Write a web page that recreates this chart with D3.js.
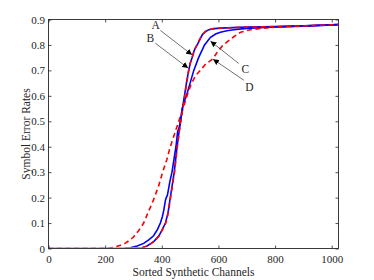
<!DOCTYPE html>
<html><head><meta charset="utf-8">
<script src="https://cdn.jsdelivr.net/npm/d3@7"></script>
<style>body{margin:0;background:#fff}svg{display:block}text{font-family:"Liberation Serif","Times New Roman",serif;fill:#262626}</style>
</head><body><svg id="c" width="374" height="280"></svg>
<script>
const xTicks = [0, 200, 400, 600, 800, 1000];
const yTicks = [0, 0.1, 0.2, 0.3, 0.4, 0.5, 0.6, 0.7, 0.8, 0.9];
const xLabel = "Sorted Synthetic Channels";
const yLabel = "Symbol Error Rates";

const aX = [0, 300, 330, 348, 362, 374, 390, 402, 413, 422, 430, 437, 444, 449, 454, 460, 466, 473, 480, 487, 495, 501, 507, 515, 525, 534, 543, 554, 566, 585, 607, 650, 700, 800, 900, 1024];
const aY = [0, 0, 0.003, 0.01, 0.02, 0.03, 0.05, 0.075, 0.1, 0.14, 0.2, 0.25, 0.3, 0.35, 0.4, 0.45, 0.5, 0.55, 0.6, 0.65, 0.7, 0.73, 0.75, 0.78, 0.8, 0.82, 0.84, 0.852, 0.86, 0.864, 0.866, 0.868, 0.87, 0.872, 0.875, 0.88];
const bX = [0, 305, 332, 349, 363, 375, 391, 403, 414, 423, 431, 438, 445, 450, 455, 461, 467, 474, 481, 488, 495, 501, 507, 515, 524, 533, 542, 553, 565, 585, 607, 650, 700, 800, 900, 1024];
const bY = [0, 0, 0.003, 0.01, 0.02, 0.03, 0.05, 0.075, 0.1, 0.14, 0.2, 0.25, 0.3, 0.35, 0.4, 0.45, 0.5, 0.55, 0.6, 0.65, 0.7, 0.73, 0.75, 0.78, 0.8, 0.82, 0.84, 0.852, 0.86, 0.864, 0.866, 0.868, 0.87, 0.872, 0.875, 0.88];
const cX = [0, 260, 289, 313, 336, 355, 371, 385, 395, 402, 407, 413, 416, 420, 428, 436, 443, 450, 456, 460, 466, 472, 480, 487, 500, 513, 530, 551, 572, 590, 607, 630, 654, 700, 780, 900, 1024];
const cY = [0, 0, 0.003, 0.01, 0.02, 0.035, 0.05, 0.075, 0.1, 0.125, 0.15, 0.19, 0.2, 0.21, 0.26, 0.3, 0.35, 0.4, 0.46, 0.47, 0.5, 0.55, 0.58, 0.6, 0.65, 0.7, 0.75, 0.8, 0.83, 0.843, 0.85, 0.856, 0.86, 0.865, 0.87, 0.874, 0.88];
const dX = [0, 200, 218, 235, 254, 270, 283, 300, 318, 336, 355, 374, 390, 403, 418, 430, 445, 460, 475, 489, 505, 520, 536, 555, 580, 598, 617, 645, 678, 713, 760, 800, 900, 1024];
const dY = [0, 0, 0.002, 0.006, 0.013, 0.02, 0.03, 0.045, 0.07, 0.1, 0.15, 0.2, 0.25, 0.3, 0.35, 0.4, 0.45, 0.5, 0.55, 0.6, 0.65, 0.68, 0.7, 0.725, 0.745, 0.775, 0.8, 0.825, 0.85, 0.86, 0.866, 0.87, 0.875, 0.88];

// annotations: label, label anchor in data, arrow start, arrow tip
const annLabels = ["A", "B", "C", "D"];
const annLabelPos = [[378, 0.880], [360, 0.827], [695, 0.705], [709, 0.633]];
const annFrom = [[395, 0.857], [377, 0.807], [672, 0.727], [690, 0.661]];
const annTo = [[507, 0.761], [493, 0.709], [572, 0.815], [581, 0.744]];

const svg = d3.select("#c");
const L = 48.5, R = 338.5, T = 19.5, B = 248.5;
const x = d3.scaleLinear().domain([0, 1024]).range([L, R]);
const y = d3.scaleLinear().domain([0, 0.9]).range([B, T]);

svg.append("defs").append("marker").attr("id", "ah").attr("viewBox", "0 0 10 10")
  .attr("refX", 10).attr("refY", 5).attr("markerWidth", 6).attr("markerHeight", 6)
  .attr("markerUnits", "userSpaceOnUse").attr("orient", "auto")
  .append("path").attr("d", "M0,0L10,5L0,10Z").attr("fill", "#000");

const ax = "#262626";
const gx = svg.append("g").attr("transform", `translate(0,${B})`)
  .call(d3.axisBottom(x).tickValues(xTicks).tickSize(-3).tickPadding(6.5).tickFormat(d3.format("d")));
const gx2 = svg.append("g").attr("transform", `translate(0,${T})`)
  .call(d3.axisTop(x).tickValues(xTicks).tickSize(-3).tickFormat(""));
const gy = svg.append("g").attr("transform", `translate(${L},0)`)
  .call(d3.axisLeft(y).tickValues(yTicks).tickSize(-3).tickPadding(3.5).tickFormat(d => d === 0 ? "0" : d3.format(".1f")(d)));
const gy2 = svg.append("g").attr("transform", `translate(${R},0)`)
  .call(d3.axisRight(y).tickValues(yTicks).tickSize(-3).tickFormat(""));
[gx, gx2, gy, gy2].forEach(g => {
  g.select(".domain").remove();
  g.selectAll("line").attr("stroke", ax).attr("stroke-width", 0.8);
  g.selectAll("text").style("font-family", '"Liberation Serif",serif').style("font-size", "11px").attr("fill", ax);
});
svg.append("rect").attr("x", L).attr("y", T).attr("width", R - L).attr("height", B - T)
  .attr("fill", "none").attr("stroke", ax).attr("stroke-width", 0.9);

const line = (xs, ys) => d3.line().x((d, i) => x(xs[i])).y((d, i) => y(ys[i]))(xs);
const clip = svg.append("clipPath").attr("id", "cp").append("rect")
  .attr("x", L).attr("y", T - 2).attr("width", R - L).attr("height", B - T + 1);
const pg = svg.append("g").attr("clip-path", "url(#cp)");
pg.append("path").attr("d", line(cX, cY)).attr("fill", "none").attr("stroke", "#0000ff").attr("stroke-width", 1.6);
pg.append("path").attr("d", line(dX, dY)).attr("fill", "none").attr("stroke", "#ff0000").attr("stroke-width", 1.6).attr("stroke-dasharray", "5,3.5");
pg.append("path").attr("d", line(aX, aY)).attr("fill", "none").attr("stroke", "#0000ff").attr("stroke-width", 1.6);
pg.append("path").attr("d", line(bX, bY)).attr("fill", "none").attr("stroke", "#ff0000").attr("stroke-width", 1.6).attr("stroke-dasharray", "5,3.5");

annLabels.forEach((t, i) => {
  svg.append("line").attr("x1", x(annFrom[i][0])).attr("y1", y(annFrom[i][1]))
    .attr("x2", x(annTo[i][0])).attr("y2", y(annTo[i][1]))
    .attr("stroke", "#333").attr("stroke-width", 0.7).attr("marker-end", "url(#ah)");
  svg.append("text").attr("x", x(annLabelPos[i][0])).attr("y", y(annLabelPos[i][1]))
    .attr("text-anchor", "middle").attr("dominant-baseline", "central")
    .style("font-size", "11.5px").text(t);
});

svg.append("text").attr("x", (L + R) / 2).attr("y", 276).attr("text-anchor", "middle")
  .style("font-size", "11.5px").text(xLabel);
svg.append("text").attr("transform", `translate(29.5,${(T + B) / 2}) rotate(-90)`).attr("text-anchor", "middle")
  .style("font-size", "11.5px").text(yLabel);
</script></body></html>
